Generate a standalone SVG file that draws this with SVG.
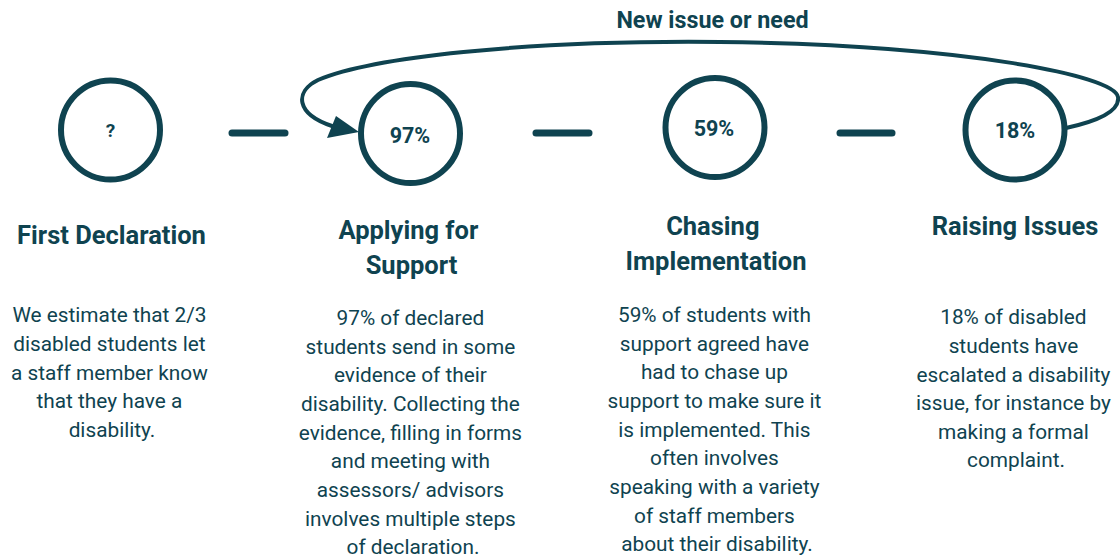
<svg xmlns="http://www.w3.org/2000/svg" width="1120" height="558" viewBox="0 0 1120 558">
  <style>
    .ring { fill: #ffffff; stroke: #0f4350; stroke-width: 6; }
    .pct { font-family: Roboto, "Liberation Sans", sans-serif; font-weight: 700; font-size: 21.5px; fill: #0f4350; text-anchor: middle; }
    .title { font-family: Roboto, "Liberation Sans", sans-serif; font-weight: 700; font-size: 25.5px; fill: #0f4350; text-anchor: middle; }
    .label { font-family: Roboto, "Liberation Sans", sans-serif; font-weight: 700; font-size: 23.3px; fill: #0f4350; text-anchor: middle; }
    .body { font-family: Roboto, "Liberation Sans", sans-serif; font-weight: 400; font-size: 20.8px; fill: #0f4350; text-anchor: middle; }
    .dash { stroke: #0f4350; stroke-width: 7; stroke-linecap: round; fill: none; }
    .loop { stroke: #0f4350; stroke-width: 4; fill: none; stroke-linecap: round; }
    .head { fill: #0f4350; }
  </style>

  <g id="connectors">
    <line class="dash" x1="232" y1="133" x2="285" y2="133"/>
    <line class="dash" x1="536" y1="133" x2="589" y2="133"/>
    <line class="dash" x1="840" y1="133" x2="892" y2="133"/>
    <path class="loop" d="M1066,128 C1098,121 1120,111 1118,97 C1115,75 960,45 720,42 C520,40 370,58 318,80 C294,92 296,114 332,126"/>
    <polygon class="head" points="359,132 327,138 336,116"/>
    <text class="label" x="712.5" y="28">New issue or need</text>
  </g>

  <g id="first-declaration">
    <circle class="ring" cx="110.5" cy="130" r="49.5"/>
    <text class="pct" x="110.5" y="137" style="font-size:19px">?</text>
    <text class="title" x="111.5" y="244">First Declaration</text>
    <text class="body">
      <tspan x="112" y="322">We estimate that 2/3</tspan>
      <tspan x="112" y="351">disabled students let</tspan>
      <tspan x="112" y="379.5">a staff member know</tspan>
      <tspan x="112" y="408">that they have a</tspan>
      <tspan x="112" y="437">disability.</tspan>
    </text>
  </g>

  <g id="applying-for-support">
    <circle class="ring" cx="410.5" cy="133.5" r="49.5"/>
    <text class="pct" x="410" y="143">97%</text>
    <text class="title">
      <tspan x="411.5" y="239">Applying for</tspan>
      <tspan x="411.5" y="274">Support</tspan>
    </text>
    <text class="body">
      <tspan x="413" y="325">97% of declared</tspan>
      <tspan x="413" y="353.5">students send in some</tspan>
      <tspan x="413" y="382">evidence of their</tspan>
      <tspan x="413" y="411">disability. Collecting the</tspan>
      <tspan x="413" y="440">evidence, filling in forms</tspan>
      <tspan x="413" y="468">and meeting with</tspan>
      <tspan x="413" y="497">assessors/ advisors</tspan>
      <tspan x="413" y="526">involves multiple steps</tspan>
      <tspan x="413" y="554">of declaration.</tspan>
    </text>
  </g>

  <g id="chasing-implementation">
    <circle class="ring" cx="715" cy="127.5" r="49.5"/>
    <text class="pct" x="714" y="136">59%</text>
    <text class="title">
      <tspan x="716" y="235">Chasing</tspan>
      <tspan x="716" y="270">Implementation</tspan>
    </text>
    <text class="body">
      <tspan x="717" y="322">59% of students with</tspan>
      <tspan x="717" y="351">support agreed have</tspan>
      <tspan x="717" y="379">had to chase up</tspan>
      <tspan x="717" y="408">support to make sure it</tspan>
      <tspan x="717" y="437">is implemented. This</tspan>
      <tspan x="717" y="465">often involves</tspan>
      <tspan x="717" y="494">speaking with a variety</tspan>
      <tspan x="717" y="523">of staff members</tspan>
      <tspan x="717" y="551">about their disability.</tspan>
    </text>
  </g>

  <g id="raising-issues">
    <circle class="ring" cx="1015" cy="130" r="49.5"/>
    <text class="pct" x="1015" y="138">18%</text>
    <text class="title" x="1015" y="235">Raising Issues</text>
    <text class="body">
      <tspan x="1016" y="324">18% of disabled</tspan>
      <tspan x="1016" y="353">students have</tspan>
      <tspan x="1016" y="382">escalated a disability</tspan>
      <tspan x="1016" y="410">issue, for instance by</tspan>
      <tspan x="1016" y="438.5">making a formal</tspan>
      <tspan x="1016" y="467">complaint.</tspan>
    </text>
  </g>
</svg>
